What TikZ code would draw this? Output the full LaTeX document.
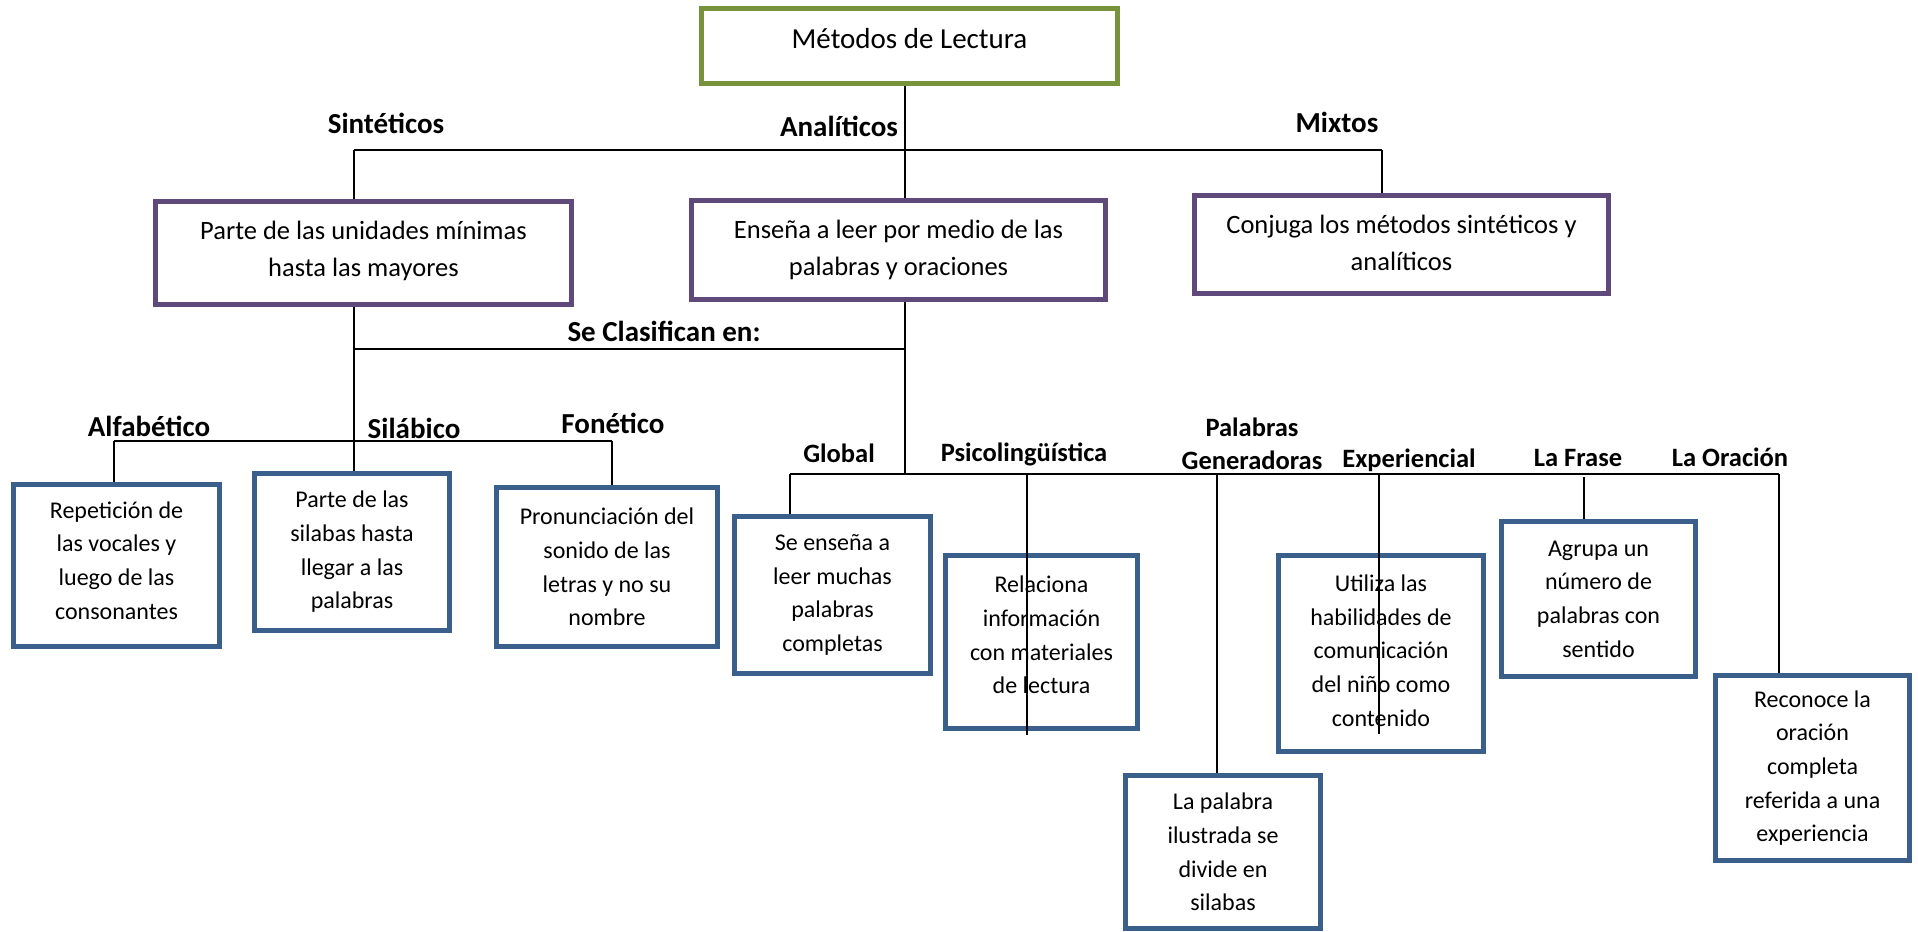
\documentclass[tikz,border=0pt]{standalone}
\usepackage{fontspec}
\setmainfont{Carlito}
\definecolor{tgreen}{HTML}{77933C}
\definecolor{tpurple}{HTML}{5F497A}
\definecolor{tblue}{HTML}{3A5F8B}
\begin{document}
\begin{tikzpicture}[x=1bp,y=-1bp,
  box/.style={draw,line width=5bp,rectangle,align=center,inner sep=0pt,fill=white},
  gbox/.style={box,draw=tgreen,font=\fontsize{29bp}{36bp}\selectfont},
  pbox/.style={box,draw=tpurple,font=\fontsize{26.5bp}{37bp}\selectfont},
  bbox/.style={box,draw=tblue,font=\fontsize{24bp}{33.7bp}\selectfont},
  lab/.style={font=\bfseries\fontsize{29bp}{33bp}\selectfont,anchor=base,inner sep=0pt},
  slab/.style={font=\bfseries\fontsize{26.5bp}{33bp}\selectfont,anchor=base,inner sep=0pt},
  conn/.style={line width=1.8bp,black}]
\useasboundingbox (0,0) rectangle (1918,932);

% junction coordinates
\coordinate (jS) at (354,150);
\coordinate (jA) at (905,150);
\coordinate (jM) at (1382,150);
\coordinate (c1) at (354,349);
\coordinate (c2) at (905,349);
\coordinate (a1) at (114,441);
\coordinate (a2) at (612,441);
\coordinate (k1) at (790,474);
\coordinate (kx) at (905,474);
\coordinate (kS) at (1027,474);
\coordinate (kP) at (1217,474);
\coordinate (kE) at (1379,474);
\coordinate (kF) at (1584,477);
\coordinate (k2) at (1779,474);
\coordinate (eS) at (1027,735);
\coordinate (eE) at (1379,734);

% boxes (positions only)
\path
  (909.5,46) node[gbox,minimum width=416bp,minimum height=75bp,text depth=16bp] (title) {Métodos de Lectura}
  (363.5,253) node[pbox,minimum width=416bp,minimum height=103bp,text depth=9bp] (sint) {Parte de las unidades mínimas\\hasta las mayores}
  (898.5,250) node[pbox,minimum width=414bp,minimum height=99bp] (anal) {Enseña a leer por medio de las\\palabras y oraciones}
  (1401.5,244.5) node[pbox,minimum width=414bp,minimum height=98bp,text depth=4bp] (mixt) {Conjuga los métodos sintéticos y\\analíticos};

% connectors
\draw[conn] (title.south -| jA) -- (anal.north -| jA);
\draw[conn] (jS) -- (jM);
\draw[conn] (jS) -- (sint.north -| jS);
\draw[conn] (jM) -- (mixt.north -| jM);
\draw[conn] (sint.south -| c1) -- (c1) -- (a1 -| c1) -- (354,471);
\draw[conn] (c1) -- (c2);
\draw[conn] (anal.south -| c2) -- (c2) -- (kx);
\draw[conn] (a1) -- (a2);
\draw[conn] (k1) -- (k2);

\path
  (116.5,565.5) node[bbox,minimum width=206bp,minimum height=162bp,text depth=10bp] (alfa) {Repetición de\\las vocales y\\luego de las\\consonantes}
  (352,552) node[bbox,minimum width=195bp,minimum height=157bp] (sila) {Parte de las\\silabas hasta\\llegar a las\\palabras}
  (607,567) node[bbox,minimum width=221bp,minimum height=159bp] (fone) {Pronunciación del\\sonido de las\\letras y no su\\nombre}
  (832.5,595) node[bbox,minimum width=196bp,minimum height=157bp] (glob) {Se enseña a\\leer muchas\\palabras\\completas}
  (1041.5,642) node[bbox,minimum width=192bp,minimum height=173bp,text depth=14bp] (psic) {Relaciona\\información\\con materiales\\de lectura}
  (1223,852) node[bbox,minimum width=195bp,minimum height=153bp] (pgen) {La palabra\\ilustrada se\\divide en\\silabas}
  (1381,653.5) node[bbox,minimum width=205bp,minimum height=196bp,text depth=6bp] (expe) {Utiliza las\\habilidades de\\comunicación\\del niño como\\contenido}
  (1598.5,599) node[bbox,minimum width=194bp,minimum height=155bp] (fras) {Agrupa un\\número de\\palabras con\\sentido}
  (1812.5,768) node[bbox,minimum width=194bp,minimum height=185bp] (orac) {Reconoce la\\oración\\completa\\referida a una\\experiencia};

\draw[conn] (a1) -- (alfa.north -| a1);
\draw[conn] (a2) -- (fone.north -| a2);
\draw[conn] (k1) -- (glob.north -| k1);
\draw[conn] (kP) -- (pgen.north -| kP);
\draw[conn] (kF) -- (fras.north -| kF);
\draw[conn] (k2) -- (orac.north -| k2);
\draw[conn] (kS) -- (eS);
\draw[conn] (kE) -- (eE);

% labels
\node[lab] (lSint) at (386,133) {Sintéticos};
\node[lab] (lAnal) at (839,136) {Analíticos};
\node[lab] (lMixt) at (1337,132) {Mixtos};
\node[lab] (lClas) at (664,341) {Se Clasifican en:};
\node[lab] (lAlfa) at (149,436) {Alfabético};
\node[lab] (lSila) at (414,438) {Silábico};
\node[lab] (lFone) at (613,433) {Fonético};
\node[slab] (lGlob) at (839,462) {Global};
\node[slab] (lPsic) at (1024,461) {Psicolingüística};
\node[slab,anchor=center,align=center] (lPgen) at (1252,444) {Palabras\\Generadoras};
\node[slab] (lExpe) at (1409,467) {Experiencial};
\node[slab] (lFras) at (1578,466) {La Frase};
\node[slab] (lOrac) at (1730,466) {La Oración};
\end{tikzpicture}
\end{document}
